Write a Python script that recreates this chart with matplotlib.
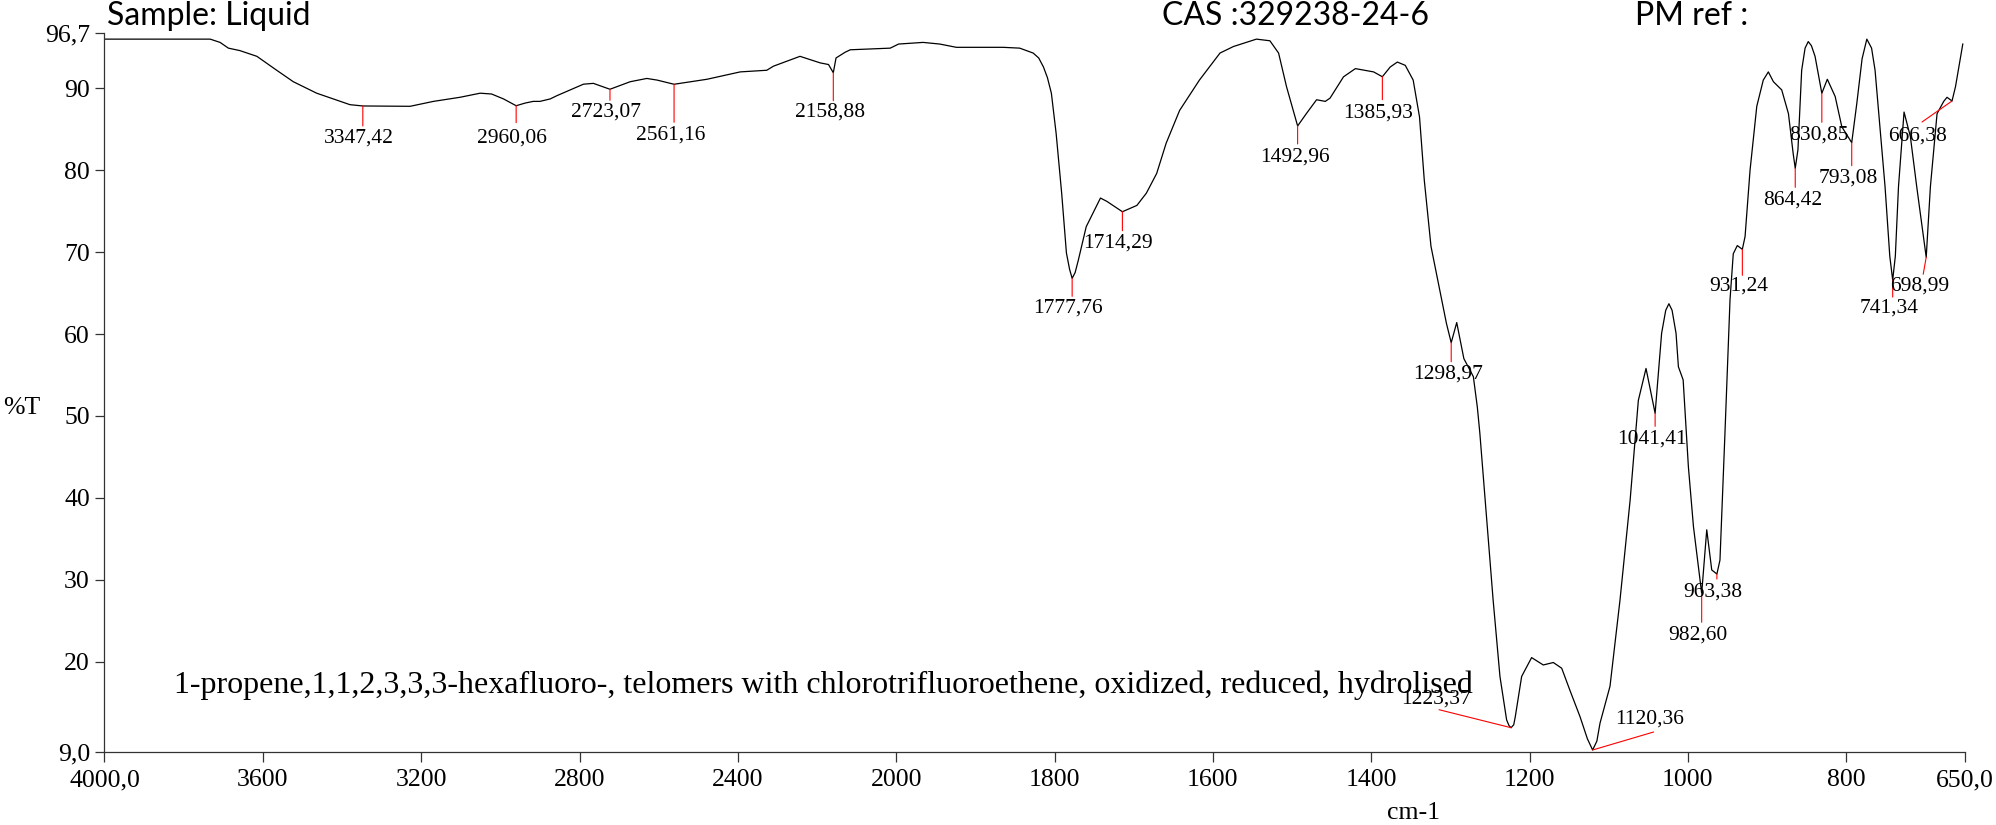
import matplotlib as mpl
mpl.use('Agg')
import matplotlib.pyplot as plt
import numpy as np

plt.rcParams['font.family'] = ['Liberation Serif', 'DejaVu Serif']

# IR spectrum, wavenumber (cm-1) vs %T
wavenumber = [4000, 3733, 3708, 3687, 3658, 3615, 3565, 3523, 3464, 3380, 3347.42, 3228, 3169,
              3102, 3051, 3022, 2992, 2960.06, 2937, 2917, 2900, 2874, 2857, 2790, 2765, 2723.07,
              2672, 2630, 2604, 2561.16, 2478, 2394, 2327, 2310, 2243, 2192, 2171, 2158.88, 2152,
              2129, 2116, 2015, 1997, 1966, 1945, 1924, 1865, 1844, 1827, 1820, 1814, 1809, 1804,
              1798, 1791, 1785, 1781, 1777.76, 1774, 1770, 1760, 1742, 1734, 1714.29, 1696, 1684,
              1671, 1659, 1642, 1617, 1591, 1574, 1545, 1528, 1517, 1507, 1492.96, 1482, 1469,
              1458, 1452, 1435, 1420, 1397, 1385.93, 1376, 1367, 1357, 1347, 1339, 1333, 1324.5,
              1316, 1311, 1305, 1298.97, 1292, 1283, 1271, 1266, 1262.8, 1254.4, 1246, 1237.4,
              1229, 1226, 1223.37, 1220, 1218, 1210, 1197.4, 1182.7, 1170, 1159.4, 1149, 1136.3,
              1127, 1120.36, 1115, 1111, 1098.4, 1085.8, 1073, 1062.6, 1052.9, 1041.41, 1033.2,
              1028, 1024, 1020, 1015, 1012, 1006, 999.4, 993, 986.8, 982.6, 976.2, 969.9, 963.38,
              959.5, 953.2, 946.8, 942.7, 937.6, 931.24, 927.8, 921.5, 913, 904.8, 898.4, 892,
              881.5, 873, 867, 864.42, 861, 856.3, 852, 848, 844, 839.4, 830.85, 823.9, 814,
              805.6, 793.08, 786.6, 780, 774, 768, 763.6, 751, 745, 741.34, 738, 734, 727, 719,
              711, 698.99, 693.7, 685.3, 676.9, 672.7, 666.38, 662, 652.8]
transmittance = [96.0, 96.0, 95.6, 94.9, 94.6, 93.9, 92.2, 90.8, 89.4, 88.0, 87.84, 87.8, 88.4,
                 88.9, 89.4, 89.3, 88.7, 87.87, 88.2, 88.4, 88.4, 88.7, 89.1, 90.5, 90.6, 89.88,
                 90.8, 91.2, 91.0, 90.49, 91.1, 92.0, 92.2, 92.7, 93.9, 93.1, 92.9, 91.9, 93.7,
                 94.4, 94.7, 94.9, 95.4, 95.6, 95.4, 95.0, 95.0, 94.9, 94.3, 93.7, 92.6, 91.3,
                 89.4, 84.5, 77.2, 69.9, 67.9, 66.8, 67.5, 69.0, 73.1, 76.6, 76.2, 74.93, 75.7,
                 77.2, 79.6, 83.3, 87.3, 91.0, 94.3, 95.1, 96.0, 95.8, 94.3, 90.2, 85.4, 86.9,
                 88.6, 88.4, 88.8, 91.4, 92.4, 92.0, 91.41, 92.6, 93.2, 92.8, 91.0, 86.5, 78.8,
                 70.7, 66.6, 64.2, 61.3, 58.94, 61.4, 57.0, 54.8, 51.1, 47.9, 37.7, 27.5, 18.2,
                 12.9, 12.2, 11.94, 12.3, 13.3, 18.2, 20.5, 19.6, 19.9, 19.2, 16.5, 13.3,
                 10.6, 9.22, 10.3, 12.5, 17.0, 27.5, 39.7, 51.9, 55.8, 50.32, 60.1,
                 62.9, 63.7, 62.9, 60.1, 56.0, 54.4, 43.8, 36.5, 31.6, 28.35, 36.1, 31.2, 30.7,
                 32.4, 47.9, 64.2, 69.8, 70.8, 70.34, 71.9, 80.0, 87.8, 91.0, 92.0, 90.8,
                 89.8, 86.9, 82.0, 80.23, 82.5, 92.2, 94.9, 95.7, 95.2, 93.9, 89.39, 91.1, 89.0,
                 85.3, 83.36, 88.2, 93.6, 96.0, 94.9, 92.2, 78.0, 69.5, 66.59, 69.5, 78.0, 87.1,
                 84.1, 78.0, 69.37, 78.0, 86.9, 88.4, 88.9, 88.45, 90.2, 95.4]

# labelled peaks
peak_wn = [3347.42, 2960.06, 2723.07, 2561.16, 2158.88, 1777.76, 1714.29, 1492.96, 1385.93,
           1298.97, 1223.37, 1120.36, 1041.41, 982.60, 963.38, 931.24, 864.42, 830.85, 793.08,
           741.34, 698.99, 666.38]
peak_t = [87.84, 87.87, 89.88, 90.49, 91.90, 66.80, 74.93, 85.40, 91.41, 58.94, 11.94, 9.22,
          50.32, 28.35, 30.70, 70.34, 80.23, 89.39, 83.36, 66.59, 69.37, 88.45]
peak_labels = [f'{w:.2f}'.replace('.', ',') for w in peak_wn]

# red marker line end and label centre, in pixels from the peak
line_off = [(0, -20), (0, -17), (0, -11), (0, -38), (0, -28), (0, -18), (0, -19), (0, -18),
            (0, -23), (0, -19), (-72, 18), (61, 18), (0, -13), (0, -29), (0, -5), (0, -26),
            (0, -19), (0, -29), (0, -23), (0, -17), (-3, -17), (-30, -21)]
text_off = [(-4, -32), (-4, -32), (-4, -23), (-3, -51), (-3, -39), (-4, -30), (-4, -31),
            (-3, -31), (-4, -36), (-3, -31), (-75, 29), (57, 31), (-3, -26), (-4, -42),
            (-4, -18), (-4, -37), (-3, -32), (-3, -42), (-3, -35), (-4, -28), (-7, -29),
            (-34, -35)]

xticks = [4000, 3600, 3200, 2800, 2400, 2000, 1800, 1600, 1400, 1200, 1000, 800, 650]
xtick_labels = ['4000,0', '3600', '3200', '2800', '2400', '2000', '1800', '1600', '1400',
                '1200', '1000', '800', '650,0']
yticks = [96.7, 90, 80, 70, 60, 50, 40, 30, 20, 9.0]
ytick_labels = ['96,7', '90', '80', '70', '60', '50', '40', '30', '20', '9,0']

compound = ('1-propene,1,1,2,3,3,3-hexafluoro-, telomers with chlorotrifluoroethene, '
            'oxidized, reduced, hydrolised')

casual = 'Lato'


# spectrometer axis: 4000-2000 drawn at half the scale of 2000-650
def fwd(x):
    x = np.asarray(x, dtype=float)
    return np.where(x > 2000, 2000 + (x - 2000) / 2, x)


def inv(t):
    t = np.asarray(t, dtype=float)
    return np.where(t > 2000, 2000 + (t - 2000) * 2, t)


fig = plt.figure(figsize=(19.96, 8.25), dpi=100)
ax = fig.add_axes([0.05235, 0.08873, 0.93212, 0.87079])

ax.plot(wavenumber, transmittance, color='black', lw=0.9)

ax.set_xscale('function', functions=(fwd, inv))
ax.set_xlim(4000, 650)
ax.set_ylim(9.0, 96.7)

ax.set_xticks(xticks)
ax.set_xticklabels(xtick_labels, fontsize=18.5)
ax.set_yticks(yticks)
ax.set_yticklabels(ytick_labels, fontsize=18.5)
ax.minorticks_off()

ax.tick_params(axis='x', direction='out', length=7.5, width=0.9, pad=5, color='#333333',
               labelcolor='black')
ax.tick_params(axis='y', direction='out', length=6.5, width=0.9, pad=4, color='#333333',
               labelcolor='black')

ax.spines['top'].set_visible(False)
ax.spines['right'].set_visible(False)
ax.spines['left'].set_color('#333333')
ax.spines['bottom'].set_color('#333333')
ax.spines['left'].set_linewidth(0.9)
ax.spines['bottom'].set_linewidth(0.9)

for w, t, lab, lo, to in zip(peak_wn, peak_t, peak_labels, line_off, text_off):
    ax.annotate('', xy=(w, t), xytext=lo, textcoords='offset pixels',
                arrowprops=dict(arrowstyle='-', color='red', lw=0.8, shrinkA=0, shrinkB=0))
    ax.annotate(lab, xy=(w, t), xytext=to, textcoords='offset pixels',
                ha='center', va='center', fontsize=15.5, color='black')

# compound name inside the plot
fig.text(174 / 1996, 1 - 693 / 825, compound, ha='left', va='baseline', fontsize=23)

# header line
fig.text(107 / 1996, 1 - 25 / 825, 'Sample: Liquid', ha='left', va='baseline',
         fontsize=23, family=casual)
fig.text(1162 / 1996, 1 - 25 / 825, 'CAS :329238-24-6', ha='left', va='baseline',
         fontsize=23, family=casual)
fig.text(1635 / 1996, 1 - 25 / 825, 'PM ref :', ha='left', va='baseline',
         fontsize=23, family=casual)

# axis titles
fig.text(3 / 1996, 1 - 408 / 825, '%T', ha='left', va='center', fontsize=18.5)
fig.text(1413 / 1996, 1 - 813 / 825, 'cm-1', ha='center', va='center', fontsize=18.5)

fig.savefig('out.png', dpi=100)
